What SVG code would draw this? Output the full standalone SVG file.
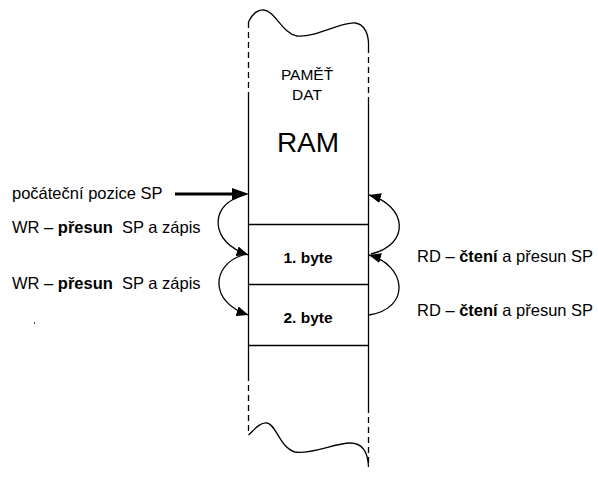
<svg xmlns="http://www.w3.org/2000/svg" width="598" height="478" viewBox="0 0 598 478">
<defs>
<style>
.t{font-family:"Liberation Sans",Arial,sans-serif;fill:#000;white-space:pre}
.ln{stroke:#000;stroke-width:1.3;fill:none}
.ds{stroke:#000;stroke-width:1.3;fill:none;stroke-dasharray:6 4}
.arc{stroke:#000;stroke-width:1.3;fill:none;marker-end:url(#ah)}
</style>
<marker id="ah" viewBox="0 0 12 10" refX="12" refY="5" markerWidth="12" markerHeight="10" markerUnits="userSpaceOnUse" orient="auto">
<path d="M0,0 L12,5 L0,10 Z" fill="#000"/>
</marker>
</defs>
<rect width="598" height="478" fill="#fff"/>
<g id="memory">
<path class="ds" d="M248.5 22 V95"/>
<path class="ln" d="M248.5 95 V375"/>
<path class="ds" d="M248.5 375 V435"/>
<path class="ds" d="M368.5 47 V103"/>
<path class="ln" d="M368.5 103 V407"/>
<path class="ds" d="M368.5 407 V467"/>
<path class="ln" d="M248.5 22 C252 14, 258 9, 264 10 C275 11, 282 33, 297 36 C315 38, 340 22, 355 23 C365 24, 369 35, 368.5 47"/>
<path class="ln" d="M248.5 435 C254 430, 260 422, 267 423 C276 424, 280 448, 295 452 C310 455, 335 443, 350 443 C362 443, 368 452, 368.5 467"/>
<text class="t" x="307" y="80" font-size="15.5" text-anchor="middle">PAMĚŤ</text>
<text class="t" x="307" y="100" font-size="15.5" text-anchor="middle">DAT</text>
<text class="t" x="308" y="152" font-size="28" text-anchor="middle">RAM</text>
</g>
<g id="byte1">
<path class="ln" d="M248.5 224.5 H368.5"/>
<text class="t" x="308" y="263" font-size="15.5" font-weight="bold" text-anchor="middle">1. byte</text>
</g>
<g id="byte2">
<path class="ln" d="M248.5 284.5 H368.5"/>
<text class="t" x="308" y="323" font-size="15.5" font-weight="bold" text-anchor="middle">2. byte</text>
</g>
<g id="end">
<path class="ln" d="M248.5 345.5 H368.5"/>
</g>
<g id="labels">
<text class="t" x="12" y="199" font-size="16.5">počáteční pozice SP</text>
<text class="t" x="12" y="233" font-size="16.5">WR – <tspan font-weight="bold">přesun</tspan>  SP a zápis</text>
<text class="t" x="12" y="289" font-size="16.5">WR – <tspan font-weight="bold">přesun</tspan>  SP a zápis</text>
<text class="t" x="417" y="262" font-size="16.5">RD – <tspan font-weight="bold">čtení</tspan> a přesun SP</text>
<text class="t" x="417" y="316" font-size="16.5">RD – <tspan font-weight="bold">čtení</tspan> a přesun SP</text>
</g>
<g id="connectors">
<path d="M175 194 H236" stroke="#000" stroke-width="3.2" fill="none"/>
<path d="M232 188 L249 194 L232 200 Z" fill="#000"/>
<path class="arc" d="M237 198 C212 206, 208 242, 248.5 255"/>
<path class="arc" d="M243 255 C212 264, 208 302, 248.5 315"/>
<path class="arc" d="M371 254 C412 244, 406 205, 369 195"/>
<path class="arc" d="M369 315 C412 308, 406 265, 369 255"/>
</g>
<rect x="34" y="322" width="1" height="2" fill="#444"/>
</svg>
